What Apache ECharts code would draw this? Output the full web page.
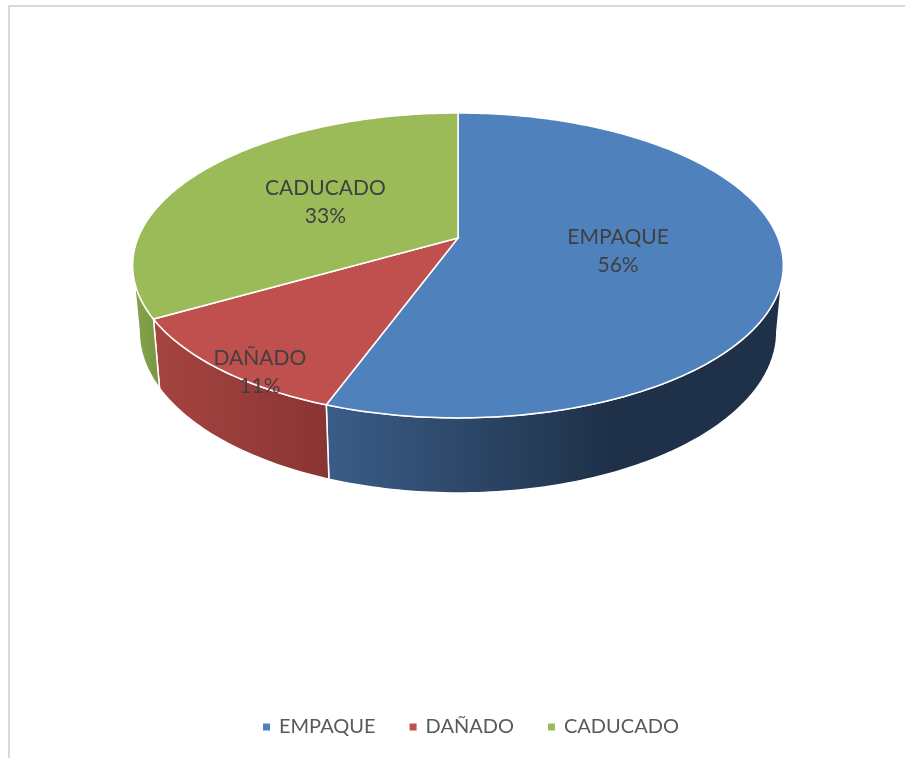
<!DOCTYPE html>
<html>
<head>
<meta charset="utf-8">
<script src="https://cdn.jsdelivr.net/npm/echarts@6/dist/echarts.min.js"></script>
<style>
  html, body { margin: 0; padding: 0; background: #fff; }
  #main { width: 905px; height: 758px; }
</style>
</head>
<body>
<div id="main"></div>
<script>
// datos del gráfico
const categories = ['EMPAQUE', 'DAÑADO', 'CADUCADO'];
const values = [5, 1, 3];

const topColors = ['#4F81BD', '#C0504D', '#9BBB59'];
const sideStops = [
  [[0, '#3a5d88'], [0.62, '#1f3149'], [1, '#1f3149']],
  [[0, '#a64441'], [1, '#893533']],
  [[0, '#86a44c'], [1, '#7a9643']]
];

// proyección en perspectiva del pastel 3D
const CX = 458, CY = 238, RX = 320, RY = 147.5, P = -0.18, DEPTH = 64.5, SB = 0.98;
const total = values.reduce((s, v) => s + v, 0);

function proj(phi, r, bottom) {
  let u = r * Math.sin(phi), v = -r * Math.cos(phi);
  const w = 1 + P * v;
  if (bottom) {
    return [CX + RX * SB * u / w, CY + (RY * SB * v + DEPTH) / w];
  }
  return [CX + RX * u / w, CY + RY * v / w];
}

function arc(a0, a1, bottom) {
  const n = Math.max(6, Math.ceil((a1 - a0) / (Math.PI / 180)));
  const pts = [];
  for (let i = 0; i <= n; i++) pts.push(proj(a0 + (a1 - a0) * i / n, 1, bottom));
  return pts;
}

const VIS0 = Math.acos(P), VIS1 = 2 * Math.PI - VIS0;

function makeRender(idx) {
  return function (params, api) {
    const val = api.value(0);
    const before = values.slice(0, idx).reduce((s, v) => s + v, 0);
    const a0 = before / total * 2 * Math.PI;
    const a1 = (before + val) / total * 2 * Math.PI;
    const children = [];

    // cara superior
    children.push({
      type: 'polygon',
      z2: 10,
      shape: { points: [proj(0, 0, false)].concat(arc(a0, a1, false)) },
      style: { fill: topColors[idx], stroke: '#fff', lineWidth: 1.5 }
    });

    // lado visible
    const s = Math.max(a0, VIS0), e = Math.min(a1, VIS1);
    if (e > s) {
      const pts = arc(s, e, false).concat(arc(s, e, true).reverse());
      children.push({
        type: 'polygon',
        z2: 1,
        shape: { points: pts },
        style: {
          fill: {
            type: 'linear', x: 0, y: 0, x2: 1, y2: 0,
            colorStops: sideStops[idx].map(c => ({ offset: c[0], color: c[1] }))
          },
          stroke: '#fff', lineWidth: 1.5
        }
      });
    }

    // etiqueta
    const share = val / total;
    const mid = (a0 + a1) / 2;
    let pos;
    if (share < 0.15) {
      const t = proj(mid, 0.85, false), b = proj(mid, 0.85, true);
      pos = [t[0], t[1] + (b[1] - t[1]) * 0.36];
    } else {
      pos = proj(mid, 0.5, false);
    }
    children.push({
      type: 'text',
      z2: 20,
      x: pos[0],
      y: pos[1],
      style: {
        text: categories[idx] + '\n' + Math.round(share * 100) + '%',
        fill: '#404040',
        font: '21px Lato',
        align: 'center',
        verticalAlign: 'middle',
        lineHeight: 28
      }
    });

    return { type: 'group', children: children };
  };
}

const chart = echarts.init(document.getElementById('main'));
chart.setOption({
  animation: false,
  backgroundColor: '#fff',
  graphic: [{
    type: 'rect',
    shape: { x: 9, y: 6, width: 1000, height: 1000 },
    style: { fill: 'none', stroke: '#d9d9d9', lineWidth: 2 },
    silent: true
  }],
  legend: {
    left: 258,
    top: 712,
    icon: 'rect',
    itemWidth: 7,
    itemHeight: 7,
    itemGap: 34,
    textStyle: { fontSize: 20, fontFamily: 'Lato', color: '#595959', padding: [0, 0, 0, 4] },
    data: categories
  },
  series: categories.map((name, i) => ({
    type: 'custom',
    name: name,
    coordinateSystem: 'none',
    itemStyle: { color: topColors[i] },
    data: [[values[i]]],
    renderItem: makeRender(i)
  }))
});
</script>
</body>
</html>
